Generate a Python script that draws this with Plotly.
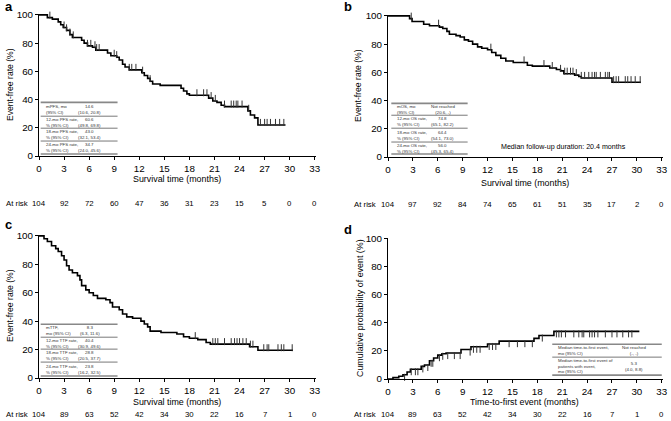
import numpy as np
import plotly.graph_objects as go

## ---- data ----
months = [0, 3, 6, 9, 12, 15, 18, 21, 24, 27, 30, 33]

# a: PFS
a_t = [0, 1.0, 1.6, 2.3, 2.6, 2.9, 3.3, 3.7, 4.0, 5.1, 5.4, 5.8, 6.4, 6.8, 8.2, 8.6, 9.3, 9.6,
       10.0, 10.3, 10.8, 12.3, 12.6, 13.0, 13.3, 13.6, 14.5, 17.0, 17.3, 17.7, 18.0, 20.3, 20.8,
       21.3, 21.8, 22.2, 25.0, 25.3, 25.8, 26.2]
a_s = [100, 98, 97, 95, 93, 91, 89, 86, 84, 82, 80, 78, 77, 75, 73, 71, 70, 68,
       65, 63, 61, 59, 57, 55, 53, 51, 50, 48, 46, 44, 43, 41, 39,
       38, 36, 35, 32, 29, 27, 22]
a_end = 29.5
a_cens = [1.3, 3.0, 3.3, 3.7, 4.1, 5.8, 6.2, 6.7, 6.9, 7.2, 9.0, 9.3, 10.8, 11.1, 11.6, 12.4,
          13.3, 18.9, 19.7, 20.1, 20.6, 21.1, 22.2, 23.0, 23.3, 23.6, 23.8, 24.3, 25.1, 26.5,
          27.0, 27.3, 27.7, 28.3, 28.8, 29.3]
a_risk = [104, 92, 72, 60, 47, 36, 31, 23, 15, 5, 0, 0]

# b: OS
b_t = [0, 2.6, 2.9, 4.3, 5.0, 6.2, 6.6, 7.1, 7.4, 8.2, 8.7, 9.2, 9.7, 10.2, 10.8, 11.3, 12.0,
       12.5, 13.0, 13.6, 14.2, 15.1, 16.8, 17.4, 19.5, 20.3, 20.8, 21.2, 22.5, 23.0, 23.3, 27.0]
b_s = [100, 98, 96, 94, 93, 92, 91, 89, 87, 86, 85, 83, 82, 80, 78, 77, 76,
       74, 72, 70, 68, 67, 65, 64.4, 63, 62, 61, 59, 58, 57, 56, 53]
b_end = 30.5
b_cens = [0.9, 1.3, 2.0, 2.5, 2.8, 6.1, 12.4, 16.4, 18.8, 19.8, 20.8, 21.3, 21.6, 22.0, 22.3,
          22.7, 23.3, 23.7, 24.2, 24.6, 24.9, 25.1, 25.6, 26.2, 26.5, 26.7, 27.2, 27.5, 27.8,
          28.6, 28.9, 29.3, 29.8, 30.4]
b_risk = [104, 97, 92, 84, 74, 65, 61, 51, 35, 17, 2, 0]

# c: TTF
c_t = [0, 0.6, 1.0, 1.5, 2.0, 2.3, 2.7, 3.0, 3.3, 3.6, 4.0, 4.6, 4.9, 5.1, 5.6, 6.0, 6.5, 7.0,
       8.0, 8.5, 8.8, 9.6, 10.0, 10.5, 11.2, 12.2, 12.6, 13.0, 13.3, 14.6, 16.5, 17.3, 18.0,
       19.0, 20.0, 20.5, 25.2, 26.2]
c_s = [100, 98, 96, 93, 91, 89, 86, 83, 79, 76, 74, 72, 69, 65, 62, 60, 58, 56,
       55, 53, 50, 48, 45, 43, 42, 40, 38, 36, 33, 32, 31, 29, 28,
       27, 25, 23.8, 22, 19.5]
c_end = 30.4
c_cens = [18.7, 20.8, 21.1, 21.4, 22.2, 23.0, 23.4, 23.7, 24.0, 24.4, 24.8, 25.3, 25.6, 26.9,
          27.3, 27.5, 28.6, 29.0, 29.3, 30.3]
c_risk = [104, 89, 63, 52, 42, 34, 30, 22, 16, 7, 1, 0]

# d: cumulative probability of event
d_t = [0, 0.6, 1.3, 1.8, 2.3, 2.7, 4.0, 4.4, 5.0, 5.5, 6.0, 6.5, 7.0, 8.8, 10.0, 12.0, 13.4,
       17.6, 18.2, 20.0]
d_s = [0, 1, 2, 3, 5, 7, 9, 10, 13, 15, 17, 18, 18.5, 21, 23, 25, 27, 29, 31, 34]
d_end = 30.3
d_cens = [1.0, 2.0, 2.8, 3.3, 3.6, 4.2, 4.8, 5.2, 5.4, 6.2, 6.6, 7.2, 8.0, 8.7, 9.9, 10.3, 10.7,
          11.1, 12.2, 12.6, 13.0, 14.6, 15.6, 16.5, 17.4, 18.6, 20.3, 20.6, 20.9, 21.4, 22.4,
          23.0, 23.4, 23.6, 24.3, 24.6, 24.9, 25.3, 26.2, 27.0, 27.6, 28.3, 29.0, 29.4]
d_risk = [104, 89, 63, 52, 42, 34, 30, 22, 16, 7, 1, 0]

# summary tables (left cell, right cell)
a_table = [("mPFS, mo<br>(95% CI)", "14.6<br>(10.6, 20.8)"),
           ("12-mo PFS rate,<br>% (95% CI)", "60.6<br>(49.8, 69.8)"),
           ("18-mo PFS rate,<br>% (95% CI)", "43.0<br>(32.1, 53.4)"),
           ("24-mo PFS rate,<br>% (95% CI)", "34.7<br>(24.0, 45.6)")]
b_table = [("mOS, mo<br>(95% CI)", "Not reached<br>(20.6, -)"),
           ("12-mo OS rate,<br>% (95% CI)", "74.8<br>(65.1, 82.2)"),
           ("18-mo OS rate,<br>% (95% CI)", "64.4<br>(54.1, 73.0)"),
           ("24-mo OS rate,<br>% (95% CI)", "56.0<br>(45.3, 65.4)")]
c_table = [("mTTF,<br>mo (95% CI)", "8.3<br>(6.3, 11.6)"),
           ("12-mo TTF rate,<br>% (95% CI)", "40.4<br>(30.9, 49.6)"),
           ("18-mo TTF rate,<br>% (95% CI)", "28.8<br>(20.5, 37.7)"),
           ("24-mo TTF rate,<br>% (95% CI)", "23.8<br>(16.2, 32.5)")]
d_table = [("Median time-to-first event,<br>mo (95% CI)", "Not reached<br>(-, -)"),
           ("Median time-to-first event of<br>patients with event,<br>mo (95% CI)", "5.3<br>(4.0, 8.8)")]

FONT = "Liberation Sans, Arial, sans-serif"
fig = go.Figure()
annotations = []
shapes = []


def step_at(ts, ss, t):
    i = np.searchsorted(ts, t, side="right") - 1
    return ss[max(i, 0)]


def add_curve(n, ts, ss, end, cens, up=True):
    xs = list(ts) + [end]
    ys = list(ss) + [ss[-1]]
    ax = dict(xaxis="x" if n == 1 else "x%d" % n, yaxis="y" if n == 1 else "y%d" % n)
    fig.add_trace(go.Scatter(x=xs, y=ys, mode="lines", line=dict(color="black", width=1.6, shape="hv"),
                             showlegend=False, hoverinfo="skip", **ax))
    off = 1.8 if up else -1.8
    cy = [step_at(ts, ss, c) + off for c in cens]
    fig.add_trace(go.Scatter(x=cens, y=cy, mode="markers", cliponaxis=False,
                             marker=dict(symbol="line-ns", size=5, line=dict(color="#333", width=1)),
                             showlegend=False, hoverinfo="skip", **ax))


def add_table(n, rows, x0, x1, ylines, xl, xr):
    xr_ = "x" if n == 1 else "x%d" % n
    yr_ = "y" if n == 1 else "y%d" % n
    for k, yl in enumerate(ylines):
        edge = k == 0 or k == len(ylines) - 1
        shapes.append(dict(type="line", xref=xr_, yref=yr_, x0=x0, x1=x1, y0=yl, y1=yl,
                           line=dict(color="#888" if edge else "#555", width=1.6 if edge else 0.8)))
    for k, (lt, rt) in enumerate(rows):
        ym = (ylines[k] + ylines[k + 1]) / 2
        annotations.append(dict(xref=xr_, yref=yr_, x=xl, y=ym, text=lt, showarrow=False,
                                xanchor="left", yanchor="middle", align="left",
                                font=dict(size=4.4, color="#333", family=FONT)))
        annotations.append(dict(xref=xr_, yref=yr_, x=xr, y=ym, text=rt, showarrow=False,
                                xanchor="center", yanchor="middle", align="center",
                                font=dict(size=4.4, color="#333", family=FONT)))


def add_text(text, x, y, size, xref="paper", yref="paper", angle=0, xanchor="center", bold=False):
    annotations.append(dict(xref=xref, yref=yref, x=x, y=y, text="<b>%s</b>" % text if bold else text,
                            showarrow=False, textangle=angle, xanchor=xanchor, yanchor="middle",
                            font=dict(size=size, color="black", family=FONT)))


W, H = 671.0, 421.0
panels = {
    # n: (x0px, x1px, ytop px, ybottom px)
    1: (39, 316, 14, 156),
    2: (388, 663, 15, 157),
    3: (39, 316, 235, 378),
    4: (388, 663, 238, 379),
}

add_curve(1, a_t, a_s, a_end, a_cens)
add_curve(2, b_t, b_s, b_end, b_cens)
add_curve(3, c_t, c_s, c_end, c_cens)
add_curve(4, d_t, d_s, d_end, d_cens, up=False)

add_table(1, a_table, 0.2, 9.4, [38, 28.2, 19.7, 10.6, 1.4], 0.6, 6.1)
add_table(2, b_table, 0.4, 9.6, [38, 29.6, 20.4, 10.6, 2.1], 0.8, 6.6)
add_table(3, c_table, 0.2, 9.4, [37.8, 28.7, 20.3, 11.2, 1.4], 0.6, 6.1)
add_table(4, d_table, 19.8, 33, [24.8, 15.6, 2.8], 20.2, 29.7)

layout = dict(width=671, height=421, margin=dict(l=0, r=0, t=0, b=0, autoexpand=False),
              paper_bgcolor="white", plot_bgcolor="white", font=dict(family=FONT, color="black"))
for n, (px0, px1, pyt, pyb) in panels.items():
    sx = "" if n == 1 else str(n)
    layout["xaxis" + sx] = dict(domain=[px0 / W, px1 / W], range=[0, 33.15], tickvals=months,
                                anchor="y" + sx, showgrid=False, zeroline=False, showline=True,
                                linecolor="black", linewidth=1, ticks="outside", ticklen=3,
                                tickcolor="black", tickfont=dict(size=9.8), fixedrange=True,
                                automargin=False)
    layout["yaxis" + sx] = dict(domain=[1 - pyb / H, 1 - pyt / H], range=[0, 100.6],
                                tickvals=[0, 20, 40, 60, 80, 100], anchor="x" + sx, showgrid=False,
                                zeroline=False, showline=True, linecolor="black", linewidth=1,
                                ticks="outside", ticklen=3, tickcolor="black",
                                tickfont=dict(size=9.8), fixedrange=True, automargin=False)

# panel letters
add_text("a", 3 / W, 1 - 6 / H, 13, xanchor="left", bold=True)
add_text("b", 342 / W, 1 - 6 / H, 13, xanchor="left", bold=True)
add_text("c", 3 / W, 1 - 224 / H, 13, xanchor="left", bold=True)
add_text("d", 342 / W, 1 - 229 / H, 13, xanchor="left", bold=True)

# axis titles
add_text("Event-free rate (%)", 10 / W, 1 - 85 / H, 8.6, angle=-90)
add_text("Event-free rate (%)", 358 / W, 1 - 86 / H, 8.6, angle=-90)
add_text("Event-free rate (%)", 10 / W, 1 - 306 / H, 8.6, angle=-90)
add_text("Cumulative probability of event (%)", 360 / W, 1 - 308 / H, 8.9, angle=-90)
add_text("Survival time (months)", 16.5, 1 - 179 / H, 8.9, xref="x")
add_text("Survival time (months)", 16.5, 1 - 183 / H, 8.9, xref="x2")
add_text("Survival time (months)", 16.5, 1 - 402 / H, 8.9, xref="x3")
add_text("Time-to-first event (months)", 16.5, 1 - 402 / H, 8.9, xref="x4")

add_text("Median follow-up duration: 20.4 months", 21.2, 7, 7.1, xref="x2", yref="y2")

# numbers at risk
risk_rows = [(1, a_risk, 203, 4), (2, b_risk, 204, 352), (3, c_risk, 414, 4), (4, d_risk, 414, 352)]
for n, risk, ypx, lx in risk_rows:
    xr_ = "x" if n == 1 else "x%d" % n
    add_text("At risk", lx / W, 1 - ypx / H, 7.8, xanchor="left")
    for m, r in zip(months, risk):
        add_text(str(r), m, 1 - ypx / H, 7.8, xref=xr_)

layout["annotations"] = annotations
layout["shapes"] = shapes
fig.update_layout(**layout)

# drop the default 8px body margin so the figure fills the window exactly
fig.write_html("out.html", config={"displayModeBar": False},
               post_script="document.body.style.margin='0px';")
